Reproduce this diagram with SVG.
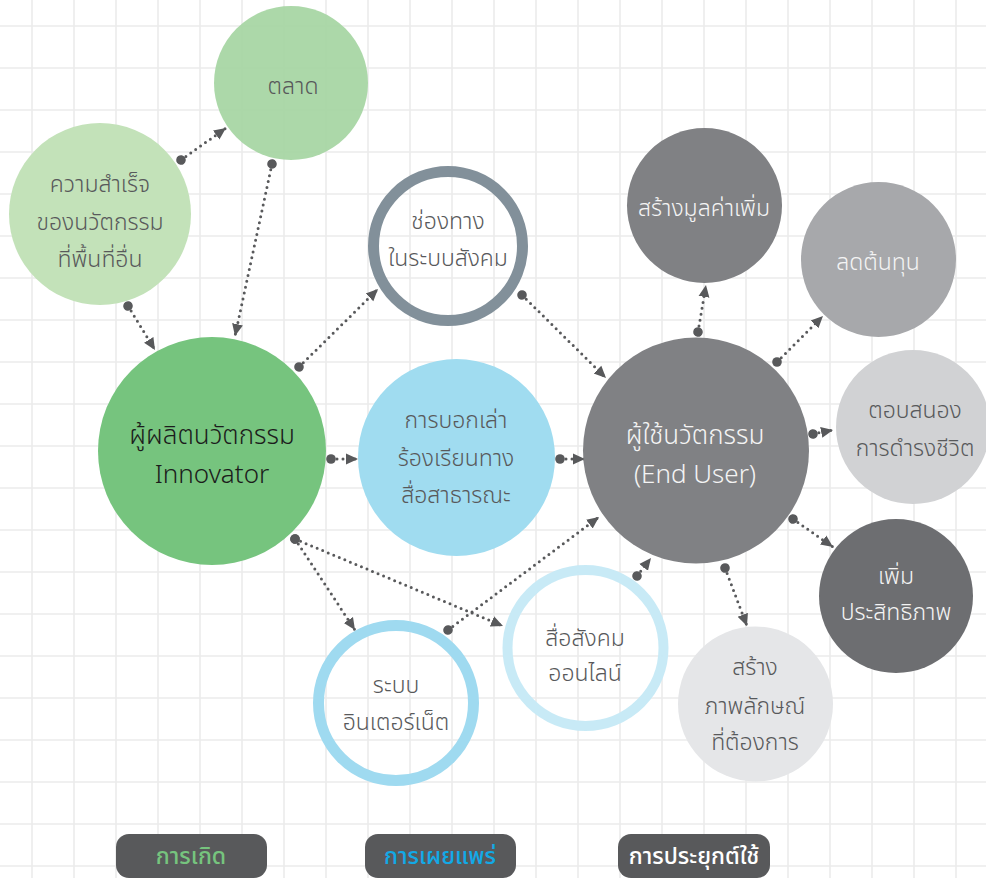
<svg xmlns="http://www.w3.org/2000/svg" width="986" height="878" viewBox="0 0 986 878">
  <defs>
    <style>
      .grid line { stroke: #ebebeb; stroke-width: 1.6; }
      .lbl { font-family: "Noto Sans Thai", "Noto Sans", "DejaVu Sans", sans-serif; font-size: 23px; font-weight: 300; text-anchor: middle; }
      .big { font-size: 26px; }
      .dark { fill: #58595b; }
      .light { fill: #f4f4f4; }
      .conn line { stroke: #58595b; stroke-width: 3; stroke-linecap: round; stroke-dasharray: 0 6; fill: none; marker-start: url(#dot); marker-end: url(#arrow); }
      .legend rect { fill: #58595b; }
      .legend text { font-family: "Noto Sans Thai", "Noto Sans", "DejaVu Sans", sans-serif; font-size: 23px; font-weight: 500; text-anchor: middle; }
    </style>
    <marker id="dot" markerUnits="userSpaceOnUse" markerWidth="12" markerHeight="12" refX="6" refY="6" orient="auto">
      <circle cx="6" cy="6" r="4.8" fill="#58595b"/>
    </marker>
    <marker id="arrow" markerUnits="userSpaceOnUse" markerWidth="14" markerHeight="14" refX="12" refY="7" orient="auto">
      <path d="M0,1.5 L12,7 L0,12.5 Z" fill="#58595b"/>
    </marker>
  </defs>

  <rect width="986" height="878" fill="#ffffff"/>

  <!-- background grid, 42px pitch -->
  <g class="grid">
    <line x1="32" y1="0" x2="32" y2="878"/><line x1="74" y1="0" x2="74" y2="878"/>
    <line x1="116" y1="0" x2="116" y2="878"/><line x1="158" y1="0" x2="158" y2="878"/>
    <line x1="200" y1="0" x2="200" y2="878"/><line x1="242" y1="0" x2="242" y2="878"/>
    <line x1="284" y1="0" x2="284" y2="878"/><line x1="326" y1="0" x2="326" y2="878"/>
    <line x1="368" y1="0" x2="368" y2="878"/><line x1="410" y1="0" x2="410" y2="878"/>
    <line x1="452" y1="0" x2="452" y2="878"/><line x1="494" y1="0" x2="494" y2="878"/>
    <line x1="536" y1="0" x2="536" y2="878"/><line x1="578" y1="0" x2="578" y2="878"/>
    <line x1="620" y1="0" x2="620" y2="878"/><line x1="662" y1="0" x2="662" y2="878"/>
    <line x1="704" y1="0" x2="704" y2="878"/><line x1="746" y1="0" x2="746" y2="878"/>
    <line x1="788" y1="0" x2="788" y2="878"/><line x1="830" y1="0" x2="830" y2="878"/>
    <line x1="872" y1="0" x2="872" y2="878"/><line x1="914" y1="0" x2="914" y2="878"/>
    <line x1="956" y1="0" x2="956" y2="878"/>
    <line x1="0" y1="26" x2="986" y2="26"/><line x1="0" y1="68" x2="986" y2="68"/>
    <line x1="0" y1="110" x2="986" y2="110"/><line x1="0" y1="152" x2="986" y2="152"/>
    <line x1="0" y1="194" x2="986" y2="194"/><line x1="0" y1="236" x2="986" y2="236"/>
    <line x1="0" y1="278" x2="986" y2="278"/><line x1="0" y1="320" x2="986" y2="320"/>
    <line x1="0" y1="362" x2="986" y2="362"/><line x1="0" y1="404" x2="986" y2="404"/>
    <line x1="0" y1="446" x2="986" y2="446"/><line x1="0" y1="488" x2="986" y2="488"/>
    <line x1="0" y1="530" x2="986" y2="530"/><line x1="0" y1="572" x2="986" y2="572"/>
    <line x1="0" y1="614" x2="986" y2="614"/><line x1="0" y1="656" x2="986" y2="656"/>
    <line x1="0" y1="698" x2="986" y2="698"/><line x1="0" y1="740" x2="986" y2="740"/>
    <line x1="0" y1="782" x2="986" y2="782"/><line x1="0" y1="824" x2="986" y2="824"/>
    <line x1="0" y1="866" x2="986" y2="866"/>
  </g>

  <!-- connectors: dot at the source, arrowhead at the target -->
  <g id="connectors" class="conn">
    <line x1="181" y1="160" x2="226" y2="128"/>
    <line x1="272" y1="164" x2="235" y2="336"/>
    <line x1="128" y1="306" x2="155" y2="350"/>
    <line x1="299" y1="367" x2="378" y2="289"/>
    <line x1="522" y1="295" x2="606" y2="378"/>
    <line x1="331" y1="459" x2="358" y2="459"/>
    <line x1="560" y1="459" x2="585" y2="459"/>
    <line x1="295" y1="539" x2="355" y2="630"/>
    <line x1="295" y1="539" x2="503" y2="626"/>
    <line x1="448" y1="630" x2="599" y2="517"/>
    <line x1="637" y1="576" x2="651" y2="558"/>
    <line x1="698" y1="332" x2="706" y2="285"/>
    <line x1="777" y1="362" x2="823" y2="316"/>
    <line x1="813" y1="434" x2="833" y2="430"/>
    <line x1="793" y1="519" x2="833" y2="547"/>
    <line x1="725" y1="568" x2="747" y2="626"/>
  </g>

  <g id="market">
    <circle cx="291" cy="83" r="77" fill="#a5d5a2" fill-opacity="0.92"/>
    <text class="lbl dark" x="293" y="94">ตลาด</text>
  </g>

  <g id="success-elsewhere">
    <circle cx="100" cy="214" r="91" fill="#c3e2b9"/>
    <text class="lbl dark" x="100" y="192">ความสำเร็จ</text>
    <text class="lbl dark" x="100" y="230">ของนวัตกรรม</text>
    <text class="lbl dark" x="100" y="267">ที่พื้นที่อื่น</text>
  </g>

  <g id="social-channel">
    <circle cx="448" cy="246" r="74.5" fill="none" stroke="#7b8a95" stroke-width="11" stroke-opacity="0.95"/>
    <text class="lbl dark" x="448" y="229">ช่องทาง</text>
    <text class="lbl dark" x="448" y="266">ในระบบสังคม</text>
  </g>

  <g id="innovator">
    <circle cx="212" cy="451" r="114" fill="#76c47e"/>
    <text class="lbl big" x="212" y="444" fill="#1c1c1c">ผู้ผลิตนวัตกรรม</text>
    <text class="lbl big" x="212" y="483" fill="#1c1c1c">Innovator</text>
  </g>

  <g id="word-of-mouth">
    <circle cx="456.5" cy="457.5" r="98.5" fill="#a0dcf0"/>
    <text class="lbl dark" x="456" y="428">การบอกเล่า</text>
    <text class="lbl dark" x="456" y="466">ร้องเรียนทาง</text>
    <text class="lbl dark" x="456" y="503">สื่อสาธารณะ</text>
  </g>

  <g id="end-user">
    <circle cx="696" cy="450.5" r="113" fill="#808184"/>
    <text class="lbl light big" x="695" y="444">ผู้ใช้นวัตกรรม</text>
    <text class="lbl light big" x="695" y="483">(End User)</text>
  </g>

  <g id="added-value">
    <circle cx="704.5" cy="205.5" r="77.5" fill="#808184"/>
    <text class="lbl light" x="704" y="216">สร้างมูลค่าเพิ่ม</text>
  </g>

  <g id="lower-cost">
    <circle cx="878.5" cy="259.5" r="77.5" fill="#a7a8ab"/>
    <text class="lbl light" x="878" y="270">ลดต้นทุน</text>
  </g>

  <g id="livelihood">
    <circle cx="913" cy="427" r="77" fill="#d1d2d4"/>
    <text class="lbl dark" x="915" y="418">ตอบสนอง</text>
    <text class="lbl dark" x="915" y="456">การดำรงชีวิต</text>
  </g>

  <g id="efficiency">
    <circle cx="896" cy="596" r="77" fill="#6d6e71"/>
    <text class="lbl light" x="896" y="584">เพิ่ม</text>
    <text class="lbl light" x="896" y="620">ประสิทธิภาพ</text>
  </g>

  <g id="desired-image">
    <circle cx="755.5" cy="704" r="77.5" fill="#e5e6e8"/>
    <text class="lbl dark" x="755" y="675">สร้าง</text>
    <text class="lbl dark" x="755" y="714">ภาพลักษณ์</text>
    <text class="lbl dark" x="755" y="750">ที่ต้องการ</text>
  </g>

  <g id="internet">
    <circle cx="396" cy="703" r="77.5" fill="none" stroke="#9fdaf0" stroke-width="11"/>
    <text class="lbl dark" x="396" y="693">ระบบ</text>
    <text class="lbl dark" x="396" y="730">อินเตอร์เน็ต</text>
  </g>

  <g id="social-media">
    <circle cx="585.5" cy="648" r="78" fill="none" stroke="#c5e9f5" stroke-width="10" stroke-opacity="0.95"/>
    <text class="lbl dark" x="585" y="646">สื่อสังคม</text>
    <text class="lbl dark" x="585" y="681">ออนไลน์</text>
  </g>

  <!-- phase legend -->
  <g id="legend" class="legend">
    <rect x="116" y="834" width="151" height="44" rx="13"/>
    <text x="191" y="864" fill="#76c47e">การเกิด</text>
    <rect x="365" y="834" width="151" height="44" rx="13"/>
    <text x="440" y="864" fill="#12a9e6">การเผยแพร่</text>
    <rect x="618" y="834" width="152" height="44" rx="13"/>
    <text x="694" y="864" fill="#ffffff">การประยุกต์ใช้</text>
  </g>
</svg>
